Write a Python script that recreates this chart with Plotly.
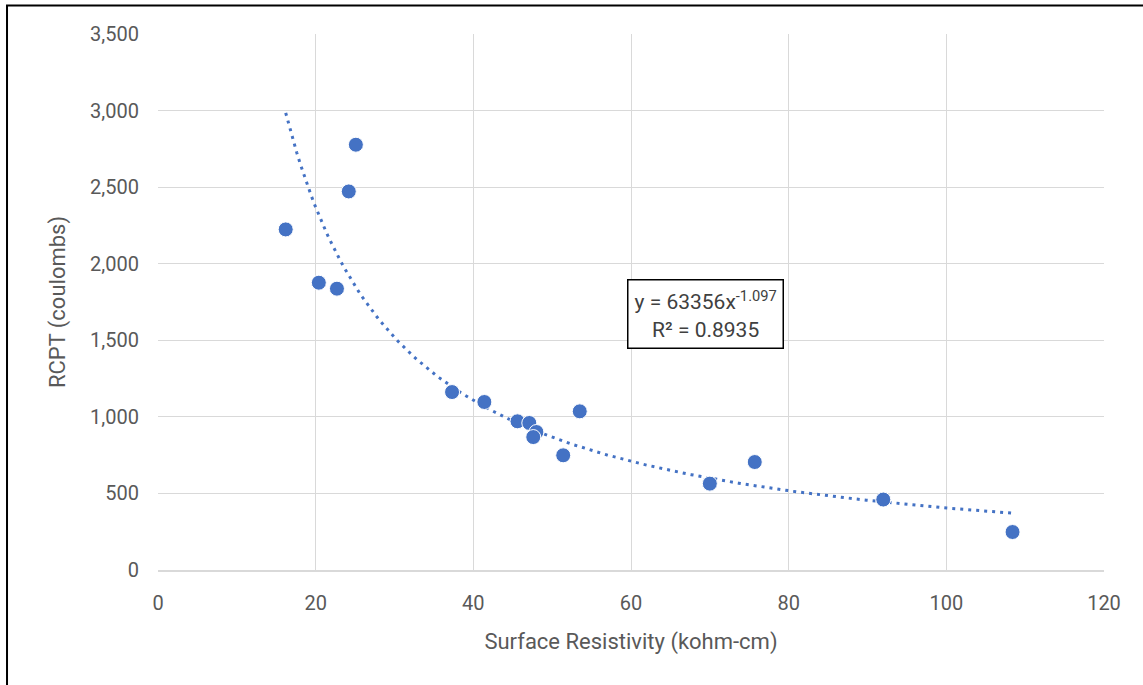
import numpy as np
import plotly.graph_objects as go

# Data
resistivity = [16.2, 25.1, 24.2, 20.4, 22.7, 37.3, 41.4, 45.6, 47.1, 48.0, 47.6,
               53.5, 51.4, 70.0, 75.7, 92.0, 108.4]
rcpt = [2224, 2777, 2472, 1876, 1837, 1162, 1097, 971, 960, 901, 868,
        1036, 749, 564, 705, 460, 248]

# Power trendline coefficients (as displayed)
coef_a = 63356
coef_b = -1.097
r_squared = 0.8935

x_ticks = [0, 20, 40, 60, 80, 100, 120]
y_ticks = [0, 500, 1000, 1500, 2000, 2500, 3000, 3500]

color = "#4472C4"
font_family = "Roboto, sans-serif"

xt = np.linspace(min(resistivity), max(resistivity), 200)
yt = coef_a * xt ** coef_b

fig = go.Figure()
fig.add_trace(go.Scatter(
    x=xt, y=yt, mode="lines",
    line=dict(color=color, width=3, dash="3px,5px"),
    hoverinfo="skip", showlegend=False,
))
fig.add_trace(go.Scatter(
    x=resistivity, y=rcpt, mode="markers",
    marker=dict(color=color, size=15, line=dict(color="white", width=1)),
    showlegend=False,
))

fig.add_annotation(
    x=69.4, y=1672, xref="x", yref="y",
    text=f"y = {coef_a}x<sup>{coef_b}</sup><br>R² = {r_squared}",
    showarrow=False,
    font=dict(family=font_family, size=21, color="#404040"),
    bordercolor="black", borderwidth=1.5, borderpad=6,
    bgcolor="white", align="center",
)

fig.add_shape(
    type="rect", xref="paper", yref="paper",
    x0=-0.1596, x1=1.2, y0=-0.4, y1=1.053,
    line=dict(color="black", width=2), layer="below",
)

axis_common = dict(
    showgrid=True, gridcolor="#d9d9d9", gridwidth=1,
    zeroline=False, ticks="",
    tickfont=dict(family=font_family, size=20, color="#595959"),
)

fig.update_layout(
    width=1143, height=685,
    margin=dict(l=158, r=39, t=34, b=115),
    paper_bgcolor="white", plot_bgcolor="white",
    xaxis=dict(
        range=[0, 120], tickvals=x_ticks, ticktext=[str(v) for v in x_ticks],
        showline=True, linecolor="#d9d9d9", linewidth=1.5,
        ticklabelstandoff=14,
        title=dict(text="Surface Resistivity (kohm-cm)",
                   font=dict(family=font_family, size=22, color="#595959"),
                   standoff=20),
        **axis_common,
    ),
    yaxis=dict(
        range=[0, 3500], tickvals=y_ticks,
        ticktext=[f"{v:,}" for v in y_ticks],
        showline=False,
        ticklabelstandoff=18,
        title=dict(text="RCPT (coulombs)",
                   font=dict(family=font_family, size=22, color="#595959"),
                   standoff=18),
        **axis_common,
    ),
)

fig.write_html("out.html", config={"displayModeBar": False},
               post_script="document.body.style.margin='0';")
